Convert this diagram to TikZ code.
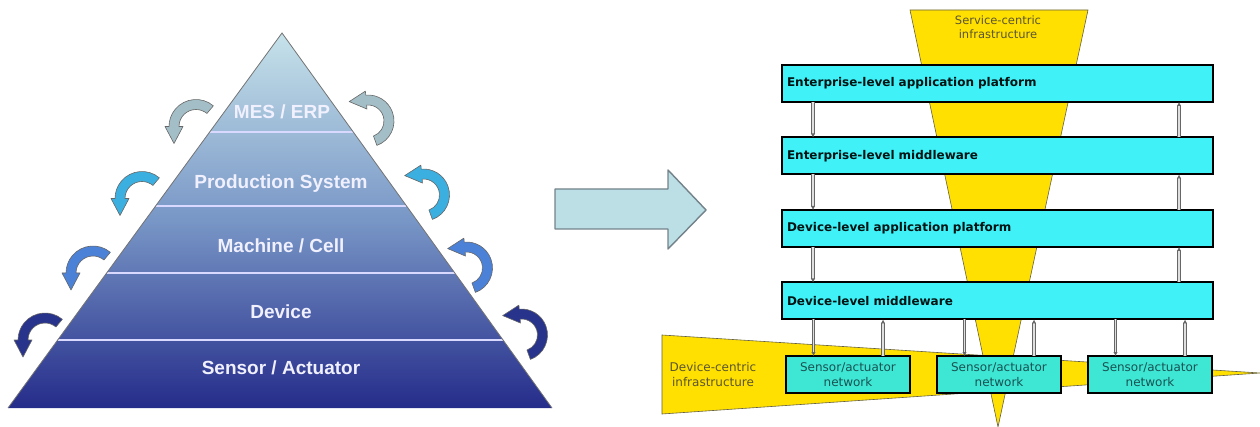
\documentclass[tikz,border=0pt]{standalone}
\usepackage{fontspec}
\setmainfont{Liberation Sans}
\newfontfamily\verdfont{DejaVu Sans}
\usetikzlibrary{positioning,calc,arrows.meta}

\definecolor{pyrtop}{HTML}{C6E2EA}
\definecolor{pyrmid}{HTML}{7896C6}
\definecolor{pyrbot}{HTML}{252C8A}
\definecolor{bendA}{HTML}{A3BEC6}
\definecolor{bendB}{HTML}{3BB0E0}
\definecolor{bendC}{HTML}{4B82D8}
\definecolor{bendD}{HTML}{28338C}
\definecolor{layercyan}{HTML}{40F2F8}
\definecolor{netcyan}{HTML}{3EE6D4}
\definecolor{infrayellow}{HTML}{FFE000}
\definecolor{infratext}{HTML}{5A5530}
\definecolor{bigarrowfill}{HTML}{BCDFE6}

\tikzset{
  downbend/.pic={
    \draw[pic actions] (310:27) arc[start angle=310,end angle=180,radius=27]
      -- (180:31) -- (-22,17) -- (180:13) -- (180:17)
      arc[start angle=180,end angle=310,radius=17] -- cycle;
  },
  upbend/.pic={
    \draw[pic actions] (70:26) arc[start angle=70,end angle=-95,radius=26]
      -- (-95:30) -- (-18.8,-19.4) -- (-95:12) -- (-95:16)
      arc[start angle=-95,end angle=70,radius=16] -- cycle;
  },
}

\begin{document}
\begin{tikzpicture}[x=1pt,y=-1pt,node distance=35.5pt and 27pt,
    level/.style={text=white!94!blue,font=\fontsize{19}{21}\selectfont\bfseries},
    sepline/.style={draw=white!85!blue,line width=1.6pt},
    pyredge/.style={draw=black!55,line width=0.8pt},
    bendarrow/.style={draw=black!60,line width=0.6pt,line join=round},
    bigarrow/.style={fill=bigarrowfill,draw=black!55!cyan!40!gray,line width=1.4pt,line join=round},
    wedge/.style={fill=infrayellow,draw=black!70!yellow,line width=0.6pt},
    infra/.style={text=infratext,align=center,font=\verdfont\fontsize{11.5}{13.5}\selectfont},
    layerbox/.style={draw=black,line width=2pt,fill=layercyan,outer sep=0pt,
      minimum height=37pt,text width=421pt,inner xsep=5pt,align=left,
      text=black!85!teal,font=\verdfont\bfseries\fontsize{12}{14}\selectfont},
    sensnet/.style={draw=black,line width=2pt,fill=netcyan,outer sep=0pt,
      minimum height=37pt,minimum width=124pt,inner sep=1pt,align=center,
      text=black!45!teal!80!gray,font=\verdfont\fontsize{12}{15}\selectfont},
    link/.style={draw=black!60,line width=0.9pt,double=white!75!gray,double distance=1.3pt,
      -{Latex[length=4pt,width=4.5pt]}}]
\useasboundingbox (0,0) rectangle (1260,427);

% pyramid of automation levels
\coordinate (apex) at (282,33);
\coordinate (bl) at (8,408);
\coordinate (br) at (552,408);
\shade[top color=pyrtop,bottom color=pyrbot,middle color=pyrmid] (apex) -- (bl) -- (br) -- cycle;
\foreach \f in {0.264,0.461,0.64,0.819}
  \draw[sepline] ($(apex)!\f!(bl)$) -- ($(apex)!\f!(br)$);
\draw[pyredge] (bl) -- (apex) -- (br);

\node[level] (mes) at (282,112) {MES / ERP};
\node[level] (prod) at (281,184) {Production System};
\node[level] (mach) at (281,246) {Machine / Cell};
\node[level] (dev) at (281,312) {Device};
\node[level] (sens) at (281,368) {Sensor / Actuator};

% bent arrows on both sides
\pic[bendarrow,fill=bendA] at (196,126.5) {downbend};
\pic[bendarrow,fill=bendB] at (142,198.5) {downbend};
\pic[bendarrow,fill=bendC] at (93,273) {downbend};
\pic[bendarrow,fill=bendD] at (45,340) {downbend};
\pic[bendarrow,fill=bendA] at (368,121) {upbend};
\pic[bendarrow,fill=bendB] at (423.5,195) {upbend};
\pic[bendarrow,fill=bendC] at (466.5,268) {upbend};
\pic[bendarrow,fill=bendD] at (521.5,335) {upbend};

% big arrow
\draw[bigarrow] (555,189) -- (668,189) -- (668,170) -- (706,210) -- (668,249) -- (668,229) -- (555,229) -- cycle;

% infrastructure wedges
\filldraw[wedge] (662,335) -- (1260,373) -- (662,414) -- cycle;
\filldraw[wedge] (910,10) -- (1088,10) -- (998,427) -- cycle;
\node[infra] (svc) at (998,27) {Service-centric\\infrastructure};
\node[infra,font=\verdfont\fontsize{12}{15}\selectfont] (devc) at (713,375) {Device-centric\\infrastructure};

% layers
\node[layerbox,anchor=north west] (eap) at (782,65) {Enterprise-level application platform};
\node[layerbox,below=of eap] (emw) {Enterprise-level middleware};
\node[layerbox,below=of emw] (dap) {Device-level application platform};
\node[layerbox,below=of dap] (dmw) {Device-level middleware};

\node[sensnet,anchor=north west] (sn1) at (786,356) {Sensor/actuator\\network};
\node[sensnet,right=of sn1] (sn2) {Sensor/actuator\\network};
\node[sensnet,right=of sn2] (sn3) {Sensor/actuator\\network};

\foreach \a/\b in {eap/emw,emw/dap,dap/dmw} {
  \draw[link] ($(\a.south west)+(31,0)$) -- ($(\b.north west)+(31,0)$);
  \draw[link] ($(\b.north east)+(-34,0)$) -- ($(\a.south east)+(-34,0)$);
}
\foreach \s in {sn1,sn2,sn3} {
  \draw[link] ($(\s.north west |- dmw.south)+(27.5,0)$) -- ($(\s.north west)+(27.5,0)$);
  \draw[link] ($(\s.north east)+(-27,0)$) -- ($(\s.north east |- dmw.south)+(-27,0)$);
}
\end{tikzpicture}
\end{document}
